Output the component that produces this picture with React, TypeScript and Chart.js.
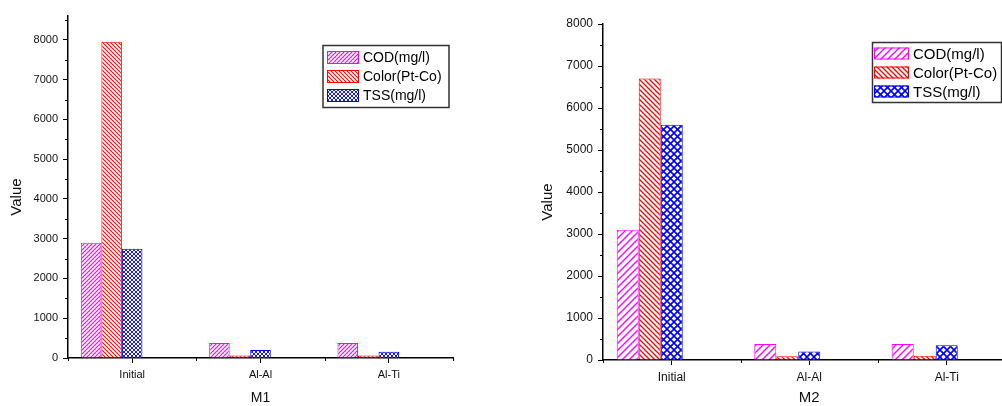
import React, { useEffect, useRef } from 'react';
import { Chart, registerables } from 'chart.js';

Chart.register(...registerables);

const FONT = "'Liberation Sans', Arial, sans-serif";

const categories = ['Initial', 'Al-Al', 'Al-Ti'];
const seriesNames = ['COD(mg/l)', 'Color(Pt-Co)', 'TSS(mg/l)'];
const seriesColors = ['#ff00ff', '#ff0000', '#0000ff'];

const m1COD = [2900, 380, 380];
const m1Color = [7950, 60, 60];
const m1TSS = [2750, 200, 160];

const m2COD = [3100, 380, 380];
const m2Color = [6700, 90, 100];
const m2TSS = [5600, 200, 350];

const yTickValues = [0, 1000, 2000, 3000, 4000, 5000, 6000, 7000, 8000];

const m1Title = 'M1';
const m2Title = 'M2';
const yTitle = 'Value';

function hatch(color: string, kind: 'fwd' | 'back' | 'cross', s: number, lw: number) {
  const c = document.createElement('canvas');
  c.width = s;
  c.height = s;
  const g = c.getContext('2d')!;
  g.fillStyle = '#fff';
  g.fillRect(0, 0, s, s);
  g.strokeStyle = color;
  g.lineWidth = lw;
  g.lineCap = 'square';
  const fwd = () => {
    g.beginPath();
    g.moveTo(0, s); g.lineTo(s, 0);
    g.moveTo(-1, 1); g.lineTo(1, -1);
    g.moveTo(s - 1, s + 1); g.lineTo(s + 1, s - 1);
    g.stroke();
  };
  const back = () => {
    g.beginPath();
    g.moveTo(0, 0); g.lineTo(s, s);
    g.moveTo(-1, s - 1); g.lineTo(1, s + 1);
    g.moveTo(s - 1, -1); g.lineTo(s + 1, 1);
    g.stroke();
  };
  if (kind === 'fwd') fwd();
  else if (kind === 'back') back();
  else { fwd(); back(); }
  const ctx = document.createElement('canvas').getContext('2d')!;
  return ctx.createPattern(c, 'repeat')!;
}

const legendPlugin = {
  id: 'hatchLegend',
  afterDraw(chart: any, _a: any, o: any) {
    const ctx = chart.ctx;
    ctx.save();
    ctx.fillStyle = '#fff';
    ctx.fillRect(o.x, o.y, o.w, o.h);
    ctx.strokeStyle = '#333';
    ctx.lineWidth = 1.5;
    ctx.strokeRect(o.x, o.y, o.w, o.h);
    const ds = chart.data.datasets.filter((d: any) => d.label);
    ds.forEach((d: any, i: number) => {
      const cy = o.firstRow + i * o.rowGap;
      ctx.fillStyle = d.backgroundColor;
      ctx.fillRect(o.sx, cy - o.sh / 2, o.sw, o.sh);
      ctx.strokeStyle = d.borderColor;
      ctx.lineWidth = 1;
      ctx.strokeRect(o.sx + 0.5, cy - o.sh / 2 + 0.5, o.sw - 1, o.sh - 1);
      ctx.fillStyle = '#000';
      ctx.font = `${o.fontSize}px ${FONT}`;
      ctx.textBaseline = 'middle';
      ctx.textAlign = 'left';
      ctx.fillText(d.label, o.tx, cy + 1);
    });
    // rotated axis title
    ctx.save();
    ctx.translate(o.ytx, o.yty);
    ctx.rotate(-Math.PI / 2);
    ctx.fillStyle = '#111';
    ctx.font = `${o.ytFont}px ${FONT}`;
    ctx.textAlign = 'center';
    ctx.textBaseline = 'middle';
    ctx.fillText(yTitle, 0, 0);
    ctx.restore();
    ctx.restore();
  },
};

const minorTickPlugin = {
  id: 'minorTicks',
  afterDraw(chart: any) {
    const { ctx, chartArea, scales } = chart;
    const y = scales.y;
    const n = chart.data.labels.length;
    ctx.save();
    ctx.strokeStyle = '#000';
    ctx.lineWidth = 1;
    ctx.beginPath();
    for (let v = 500; v < y.max; v += 1000) {
      const py = Math.round(y.getPixelForValue(v)) + 0.5;
      ctx.moveTo(chartArea.left, py);
      ctx.lineTo(chartArea.left - 3, py);
    }
    const cw = (chartArea.right - chartArea.left) / n;
    for (let i = 0; i <= n; i++) {
      const px = Math.round(chartArea.left + i * cw) + 0.5;
      ctx.moveTo(px, chartArea.bottom);
      ctx.lineTo(px, chartArea.bottom + 3);
    }
    ctx.stroke();
    ctx.restore();
  },
};

interface Panel {
  values: number[][];
  title: string;
  width: number;
  max: number;
  top: number;
  right: number;
  yWidth: number;
  xHeight: number;
  tickFont: number;
  xTitleFont: number;
  patterns: [number, number][];
  legend: any;
}

function makeConfig(p: Panel): any {
  const kinds: ('fwd' | 'back' | 'cross')[] = ['fwd', 'back', 'cross'];
  const datasets: any[] = seriesNames.map((name, i) => ({
    label: name,
    data: p.values[i],
    backgroundColor: hatch(seriesColors[i], kinds[i], p.patterns[i][0], p.patterns[i][1]),
    borderColor: seriesColors[i],
    borderWidth: 1,
    categoryPercentage: 0.8,
    barPercentage: 1,
  }));
  // two empty slots so the third series sits on the category tick
  datasets.push({ label: '', data: [null, null, null], categoryPercentage: 0.8, barPercentage: 1 });
  datasets.push({ label: '', data: [null, null, null], categoryPercentage: 0.8, barPercentage: 1 });
  return {
    type: 'bar',
    data: { labels: categories, datasets },
    plugins: [legendPlugin, minorTickPlugin],
    options: {
      responsive: false,
      animation: false,
      layout: { padding: { top: p.top, right: p.right, left: 0, bottom: 0 } },
      plugins: {
        legend: { display: false },
        tooltip: { enabled: false },
        hatchLegend: p.legend,
      },
      scales: {
        x: {
          type: 'category',
          offset: true,
          grid: { display: true, drawOnChartArea: false, offset: false, color: '#000', tickLength: 5, tickWidth: 1 },
          border: { display: true, color: '#000', width: 1.5 },
          ticks: { color: '#111', font: { family: FONT, size: p.tickFont }, padding: 5, maxRotation: 0 },
          title: { display: true, text: p.title, color: '#111', font: { family: FONT, size: p.xTitleFont, lineHeight: 1.1 }, padding: 0 },
          afterFit: (s: any) => { s.height = p.xHeight; },
        },
        y: {
          min: 0,
          max: p.max,
          grid: { display: true, drawOnChartArea: false, color: '#000', tickLength: 5, tickWidth: 1 },
          border: { display: true, color: '#000', width: 1.5 },
          ticks: {
            color: '#111',
            font: { family: FONT, size: p.tickFont },
            padding: 5,
            callback: (v: any) => String(v),
          },
          afterBuildTicks: (s: any) => { s.ticks = yTickValues.map((v) => ({ value: v })); },
          title: { display: false },
          afterFit: (s: any) => { s.width = p.yWidth; },
        },
      },
    },
  };
}

const panelM1: Panel = {
  values: [m1COD, m1Color, m1TSS],
  title: m1Title,
  width: 480,
  max: 8600,
  top: 16,
  right: 27,
  yWidth: 68,
  xHeight: 48,
  tickFont: 11,
  xTitleFont: 14,
  patterns: [[4, 1.1], [4, 1.1], [4, 0.9]],
  legend: { x: 323, y: 45.5, w: 126, h: 62, sx: 327, sw: 32, sh: 13, firstRow: 57.5, rowGap: 19, tx: 363, fontSize: 14, ytx: 17, yty: 197, ytFont: 15 },
};

const panelM2: Panel = {
  values: [m2COD, m2Color, m2TSS],
  title: m2Title,
  width: 500,
  max: 8000,
  top: 24,
  right: 4.5,
  yWidth: 83,
  xHeight: 46,
  tickFont: 12,
  xTitleFont: 15,
  patterns: [[7, 1.4], [5, 1.3], [7, 1.6]],
  legend: { x: 352.5, y: 42.5, w: 129, h: 60, sx: 354, sw: 35, sh: 12, firstRow: 53.5, rowGap: 19, tx: 393, fontSize: 15, ytx: 28, yty: 202, ytFont: 15 },
};

function ChartPanel({ panel, left }: { panel: Panel; left: number }) {
  const ref = useRef<HTMLCanvasElement>(null);
  useEffect(() => {
    const chart = new Chart(ref.current!, makeConfig(panel));
    return () => chart.destroy();
  }, [panel]);
  return (
    <canvas
      ref={ref}
      width={panel.width}
      height={406}
      style={{ position: 'absolute', left, top: 0, width: panel.width, height: 406 }}
    />
  );
}

export default function App() {
  return (
    <div style={{ position: 'fixed', left: 0, top: 0, width: 1002, height: 406, overflow: 'hidden', background: '#fff' }}>
      <ChartPanel panel={panelM1} left={0} />
      <ChartPanel panel={panelM2} left={520} />
    </div>
  );
}
